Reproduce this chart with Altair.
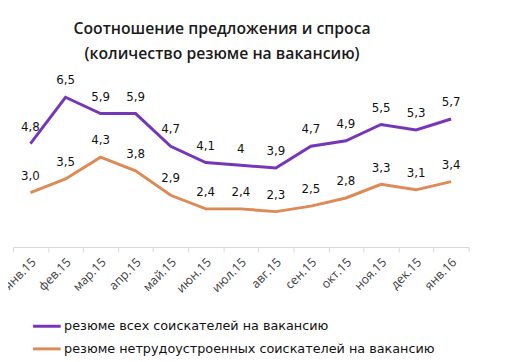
import altair as alt
import pandas as pd

months = ["янв.15", "фев.15", "мар.15", "апр.15", "май.15", "июн.15", "июл.15",
          "авг.15", "сен.15", "окт.15", "ноя.15", "дек.15", "янв.16"]
all_seekers = [4.8, 6.5, 5.9, 5.9, 4.7, 4.1, 4.0, 3.9, 4.7, 4.9, 5.5, 5.3, 5.7]
unemployed = [3.0, 3.5, 4.3, 3.8, 2.9, 2.4, 2.4, 2.3, 2.5, 2.8, 3.3, 3.1, 3.4]
series = ["резюме всех соискателей на вакансию",
          "резюме нетрудоустроенных соискателей на вакансию"]
colors = ["#7636B8", "#DD8A55"]
title_lines = ["Соотношение предложения и спроса", "(количество резюме на вакансию)"]

rows = []
for m, v in zip(months, all_seekers):
    rows.append({"month": m, "value": v, "series": series[0],
                 "label": f"{v:g}".replace(".", ",")})
for m, v in zip(months, unemployed):
    rows.append({"month": m, "value": v, "series": series[1],
                 "label": f"{v:.1f}".replace(".", ",")})
df = pd.DataFrame(rows)

x = alt.X("month:N", sort=months,
          scale=alt.Scale(type="band", paddingInner=0, paddingOuter=0),
          axis=alt.Axis(title=None, labelAngle=-45, labelAlign="right", labelBaseline="middle",
                        labelFont="Open Sans", labelFontSize=12.5, labelColor="#404040",
                        tickBand="extent", domainColor="#d9d9d9", tickColor="#d9d9d9",
                        tickSize=5, labelPadding=8, labelOffset=3, grid=False))
y = alt.Y("value:Q", scale=alt.Scale(domain=[1, 7], nice=False, zero=False), axis=None)

lines = alt.Chart(df).mark_line(strokeWidth=3).encode(
    x=x, y=y,
    color=alt.Color("series:N", sort=series,
                    scale=alt.Scale(domain=series, range=colors),
                    legend=alt.Legend(title=None, orient="none", legendX=26, legendY=238,
                                      direction="vertical", symbolType="M-2,0H2",
                                      symbolStrokeWidth=3, symbolSize=196,
                                      labelFont="DejaVu Sans", labelFontSize=13,
                                      labelColor="#111111", labelOffset=9, rowPadding=7,
                                      labelLimit=500))
)

labels = alt.Chart(df).mark_text(dy=-17, font="DejaVu Sans", fontSize=12, color="#111111").encode(
    x=x, y=y, text="label:N", detail="series:N"
)

chart = alt.layer(lines, labels).properties(
    width=463, height=166,
    padding={"left": 5, "top": 74, "right": 41, "bottom": 114},
    autosize=alt.AutoSizeParams(type="none"),
    title=alt.TitleParams(text=title_lines, font="Open Sans", fontSize=16, fontWeight=600,
                          color="#1a1a1a", anchor="middle", dx=-19, offset=13, lineHeight=25),
).configure_view(stroke=None)

chart.save("out.html", embed_options={"renderer": "svg", "actions": False})
